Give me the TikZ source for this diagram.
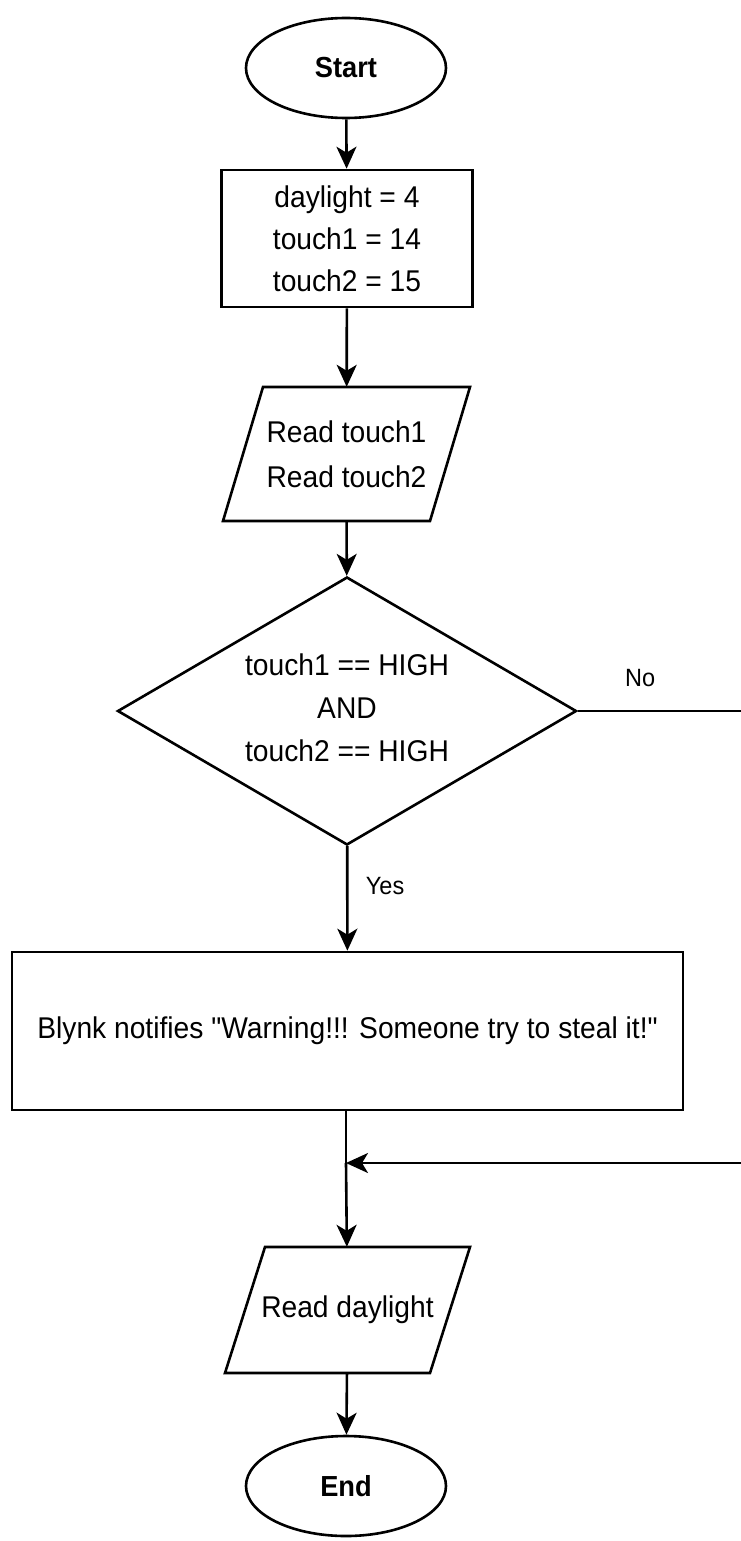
\documentclass[tikz,border=0pt]{standalone}
\usepackage{fontspec}
\setmainfont{Liberation Sans}[FakeStretch=0.94, Ligatures=TeXOff]
\usetikzlibrary{shapes.geometric,arrows.meta}
\tikzset{
  base/.style={draw=black, line width=2.6pt, align=center, font=\fontsize{30}{42}\selectfont},
  term/.style={base, ellipse, minimum width=200pt, minimum height=100pt, inner sep=0pt, font=\bfseries\fontsize{29}{42}\selectfont},
  proc/.style={base, rectangle, inner sep=0pt},
  iotext/.style={rectangle, inner sep=0pt, align=center, font=\fontsize{30}{45}\selectfont},
  dec/.style={base, diamond, inner sep=0pt, minimum width=459pt, minimum height=268pt},
  conn/.style={line width=2.6pt, -{Stealth[length=22pt,width=20pt,inset=6pt]}},
  plain/.style={line width=2.6pt},
  lbl/.style={font=\fontsize{25}{28}\selectfont}
}
\begin{document}
\begin{tikzpicture}[x=1pt,y=-1pt]
\useasboundingbox (0,0) rectangle (740,1541);
\fill[white] (0,0) rectangle (740,1541);

\node[term] (start) at (346,68) {Start};
\node[proc, minimum width=251pt, minimum height=137pt] (init) at (347,238.5) {daylight = 4\\touch1 = 14\\touch2 = 15};

\node[iotext, minimum width=247pt, minimum height=134pt] (read1) at (346.5,454) {Read touch1\\Read touch2};
\draw[plain] (263,387) -- (470,387) -- (430,521) -- (223,521) -- cycle;

\node[dec] (cond) at (347,711) {};
\node[font=\fontsize{30}{43}\selectfont, align=center] (condtext) at (347,708) {touch1 == HIGH\\AND\\touch2 == HIGH};

\node[proc, minimum width=671pt, minimum height=158pt] (notify) at (347.5,1031) {\raisebox{6pt}{Blynk notifies "Warning!!! Someone try to steal it!"}};

\coordinate (merge) at (346,1163);

\node[iotext, minimum width=245pt, minimum height=126pt] (read2) at (347.5,1310) {Read daylight};
\draw[plain] (265,1247) -- (470,1247) -- (430,1373) -- (225,1373) -- cycle;

\node[term] (end) at (346,1486) {End};

\draw[conn] (start) -- (init);
\draw[conn] (init) -- (read1);
\draw[conn] (read1) -- (cond);
\draw[conn] (cond) -- node[lbl, right=14pt, pos=0.38] (yes) {Yes} (notify);
\draw[plain] (notify.south -| merge) -- (merge);
\draw[conn] (merge) -- (read2);
\draw[conn] (cond.east) -- node[lbl, above=20pt, pos=0.38] (no) {No} (742,711) |- (merge);
\draw[conn] (read2) -- (end);
\end{tikzpicture}
\end{document}
